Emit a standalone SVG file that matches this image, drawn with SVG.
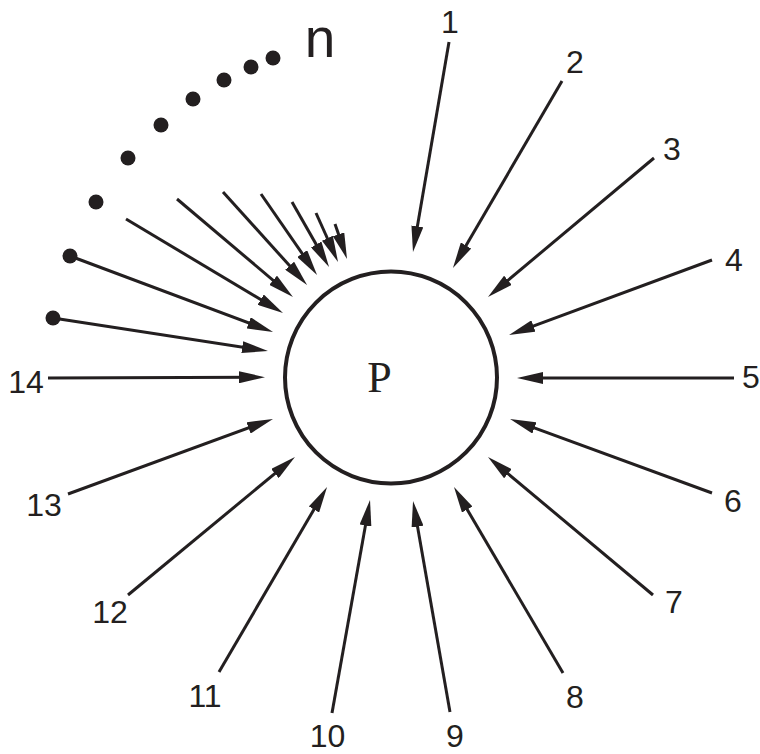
<svg xmlns="http://www.w3.org/2000/svg" width="760" height="754" viewBox="0 0 760 754">
<style>
.c{stroke:#231f20;stroke-width:3;fill:none;marker-end:url(#ah)}
.d{fill:#231f20}
.t{font-family:"Liberation Sans",Arial,sans-serif;font-size:32px;fill:#231f20;text-anchor:middle}
</style>
<defs>
<marker id="ah" markerUnits="userSpaceOnUse" markerWidth="27" markerHeight="12" refX="14" refY="6" orient="auto" viewBox="0 0 27 12">
<path d="M0,0 L26,6 L0,12 z" fill="#231f20"/>
</marker>
</defs>
<rect width="760" height="754" fill="#fff"/>
<g id="node-P">
<circle cx="391" cy="377.5" r="106" fill="none" stroke="#231f20" stroke-width="4"/>
<text x="379.5" y="392" font-family="Liberation Serif,Times New Roman,serif" font-size="44" fill="#231f20" text-anchor="middle">P</text>
</g>
<g id="connectors">
<line class="c" x1="449" y1="42" x2="415" y2="240.2"/>
<line class="c" x1="562" y1="81" x2="459" y2="257.6"/>
<line class="c" x1="654" y1="158" x2="497.2" y2="289.3"/>
<line class="c" x1="712" y1="260" x2="520.3" y2="330.8"/>
<line class="c" x1="734" y1="378" x2="529" y2="378"/>
<line class="c" x1="712" y1="493" x2="521.3" y2="423.1"/>
<line class="c" x1="653" y1="595" x2="497.2" y2="464.7"/>
<line class="c" x1="563" y1="673" x2="460.1" y2="497.4"/>
<line class="c" x1="450" y1="712" x2="415.1" y2="512.8"/>
<line class="c" x1="332" y1="713" x2="367.9" y2="511.8"/>
<line class="c" x1="219" y1="672" x2="321" y2="497.4"/>
<line class="c" x1="128" y1="595" x2="285.7" y2="464.6"/>
<line class="c" x1="68" y1="494" x2="261.7" y2="423.1"/>
<line class="c" x1="48" y1="378" x2="253" y2="377.2"/>
<line class="c" x1="53" y1="318" x2="256.1" y2="349.2"/>
<line class="c" x1="70" y1="256" x2="261.8" y2="327.8"/>
<line class="c" x1="126" y1="219" x2="272.7" y2="306.8"/>
<line class="c" x1="177" y1="199" x2="283.8" y2="289.3"/>
<line class="c" x1="223" y1="192" x2="299" y2="276.1"/>
<line class="c" x1="261" y1="194" x2="310.2" y2="265.1"/>
<line class="c" x1="292" y1="202" x2="323.1" y2="256.6"/>
<line class="c" x1="316" y1="213" x2="333.1" y2="251"/>
<line class="c" x1="335" y1="224" x2="343.1" y2="247.6"/>
</g>
<g id="dots">
<circle class="d" cx="53" cy="318" r="7.5"/>
<circle class="d" cx="70" cy="256" r="7.5"/>
<circle class="d" cx="96" cy="202" r="7.5"/>
<circle class="d" cx="128" cy="158" r="7.5"/>
<circle class="d" cx="161" cy="125" r="7.5"/>
<circle class="d" cx="193" cy="99" r="7.5"/>
<circle class="d" cx="224" cy="80" r="7.5"/>
<circle class="d" cx="251" cy="67" r="7.5"/>
<circle class="d" cx="273" cy="58" r="7.5"/>
</g>
<g id="labels">
<text class="t" x="320" y="57" style="font-size:55px">n</text>
<text class="t" x="450" y="33">1</text>
<text class="t" x="575" y="73">2</text>
<text class="t" x="672" y="160">3</text>
<text class="t" x="734" y="271">4</text>
<text class="t" x="751" y="388">5</text>
<text class="t" x="733" y="512">6</text>
<text class="t" x="674" y="613">7</text>
<text class="t" x="575" y="708">8</text>
<text class="t" x="455" y="747">9</text>
<text class="t" x="327.5" y="747">10</text>
<text class="t" x="205" y="707">11</text>
<text class="t" x="110" y="623">12</text>
<text class="t" x="44" y="516">13</text>
<text class="t" x="26" y="393">14</text>
</g>
</svg>
